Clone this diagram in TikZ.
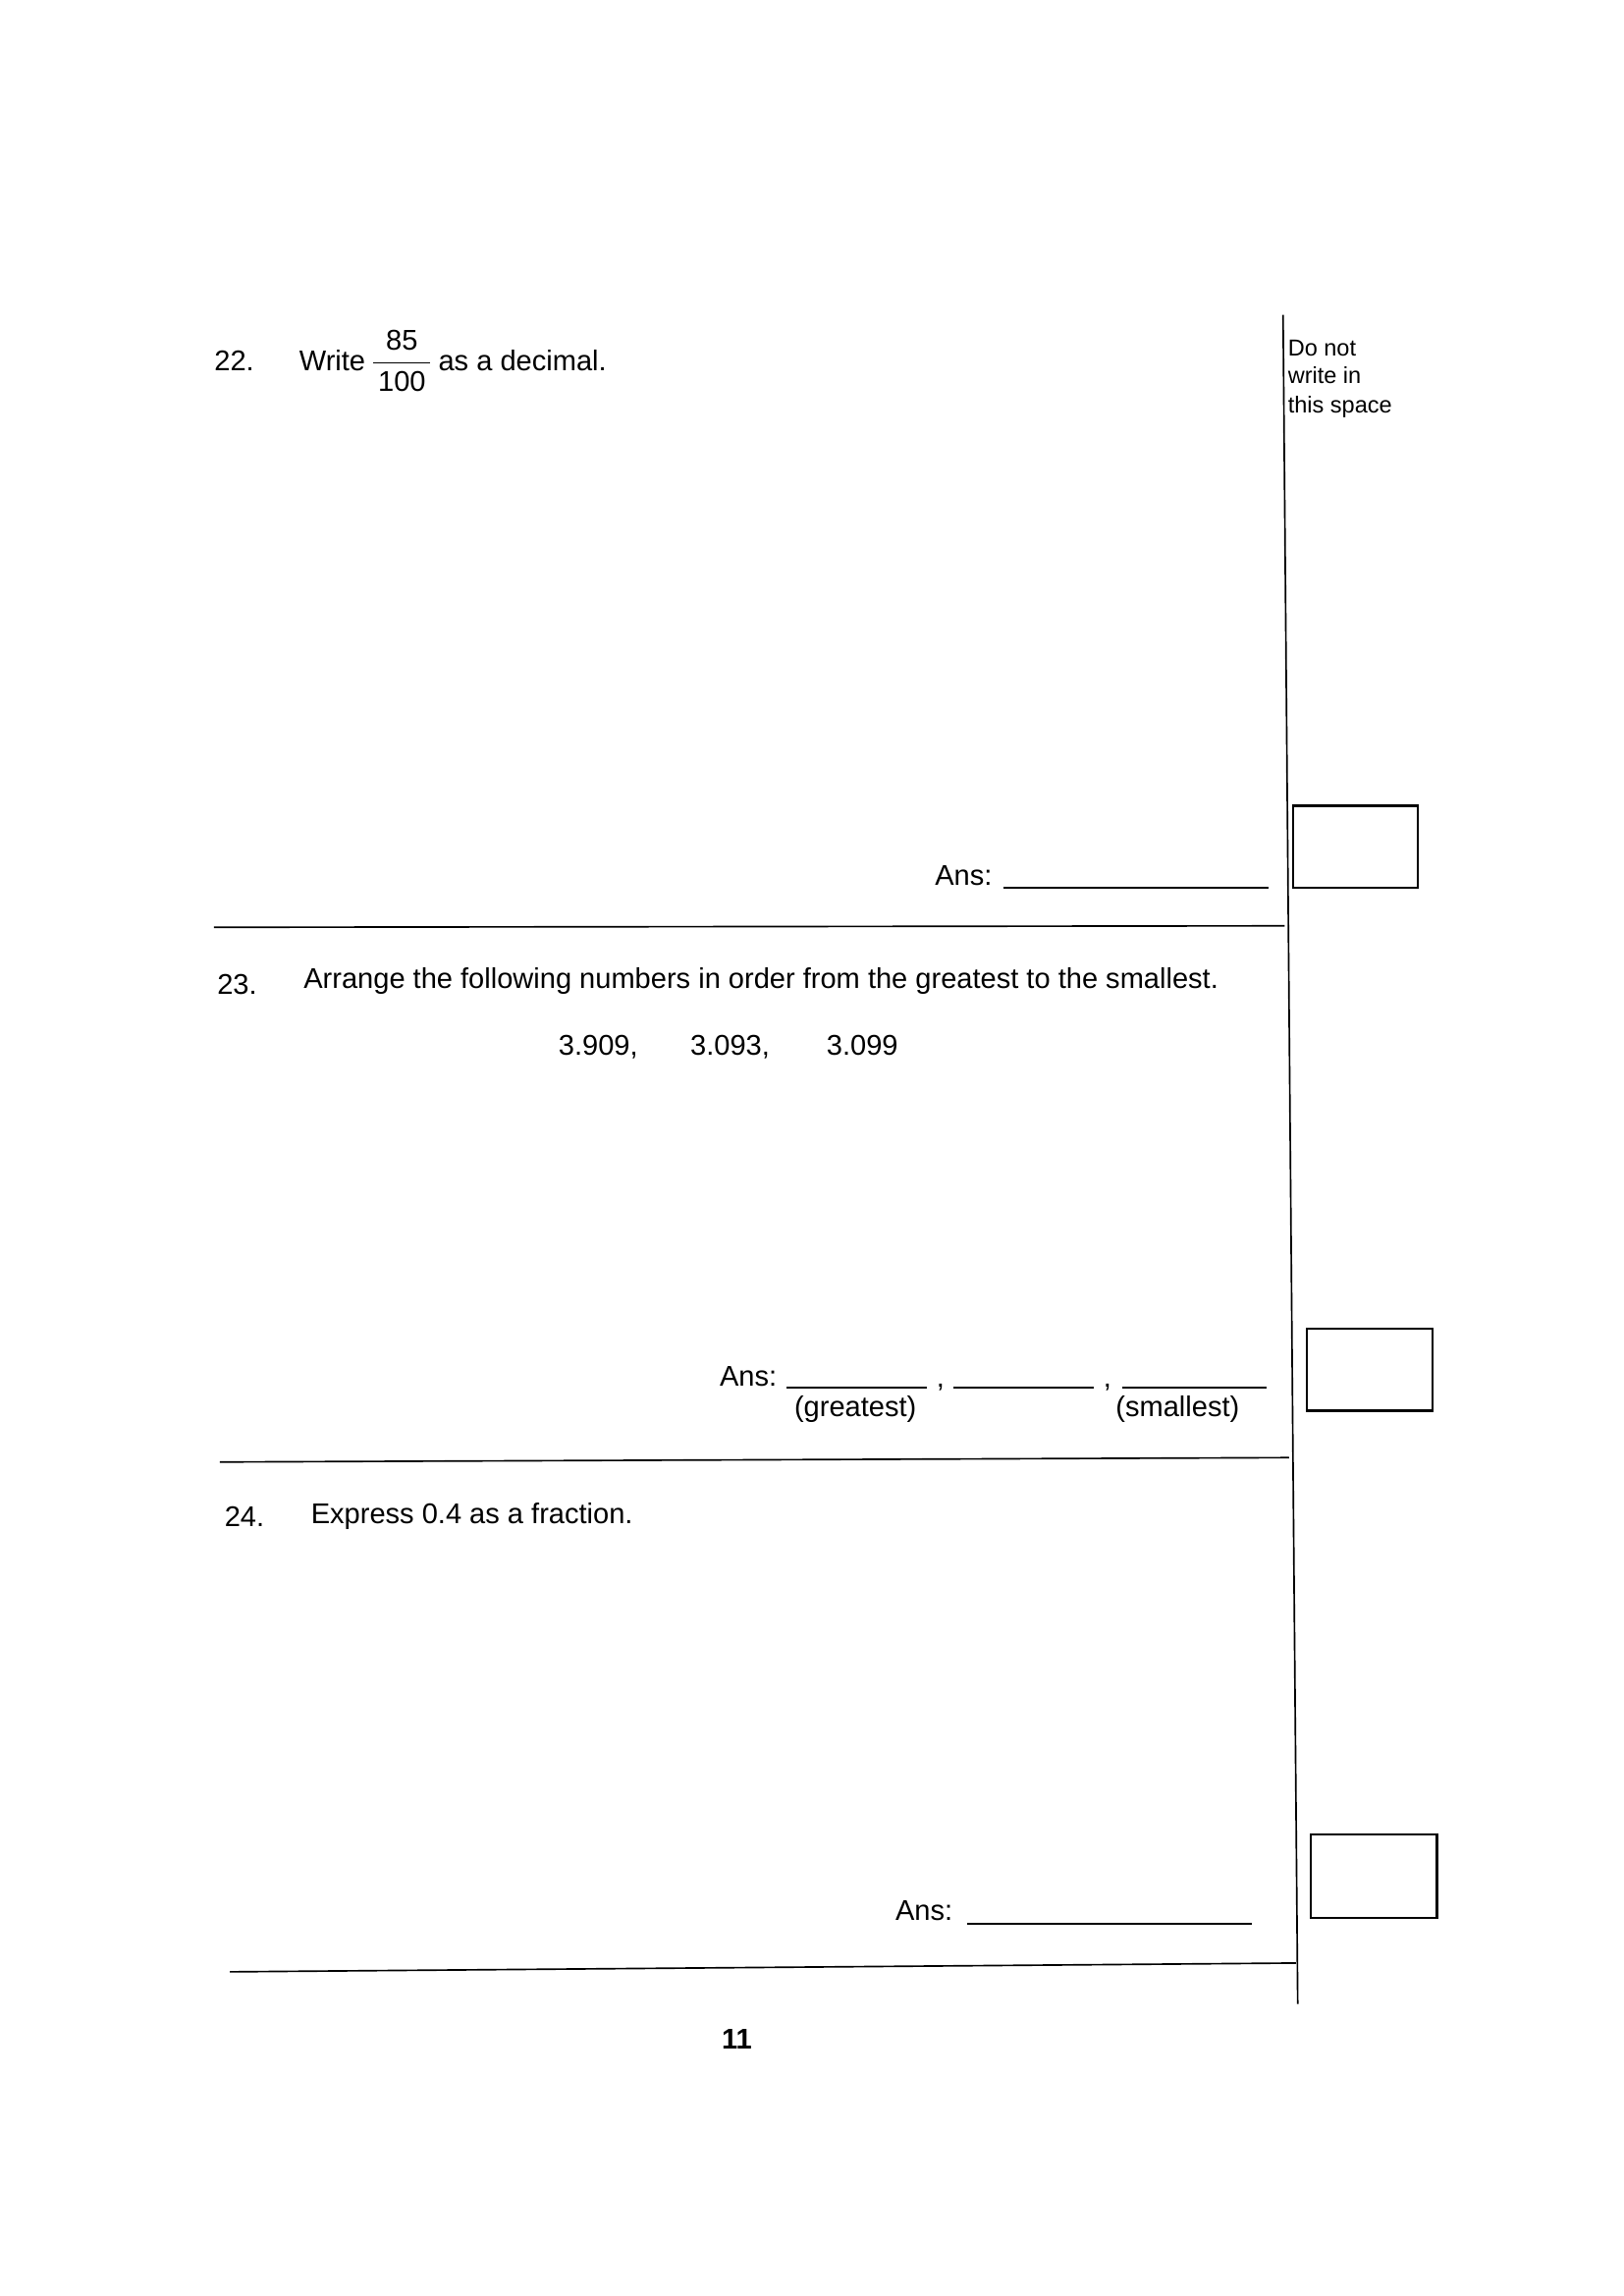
\documentclass[tikz,border=0pt]{standalone}
\usepackage{fontspec}
\setmainfont{Liberation Sans}
\begin{document}
\begin{tikzpicture}[x=0.01895cm,y=-0.01895cm,
  txt/.style={anchor=base west,inner sep=0,font=\fontsize{10.5}{12}\selectfont},
  small/.style={anchor=base west,inner sep=0,font=\fontsize{8.5}{10}\selectfont},
  ln/.style={line width=0.6pt},
  boxs/.style={draw,line width=0.8pt}]
\useasboundingbox (0,0) rectangle (1108.7,1567.3);
\coordinate (vt) at (876,215); \coordinate (vb) at (886,1368);
\draw[ln] (vt) -- (vb);
\node[small] (dn1) at (879,243) {Do not};
\node[small] (dn2) at (879,262) {write in};
\node[small] (dn3) at (879,282) {this space};
% Q22
\node[txt] (q22) at (146,253) {22.};
\node[txt] (w22) at (204,253) {Write\,$\displaystyle\frac{\mbox{\,85\,}}{\mbox{\,100\,}}$\,as a decimal.};
\node[txt] (a22) at (638,604) {Ans:};
\coordinate (l22a) at (685,606); \coordinate (l22b) at (866,606);
\draw[ln] (l22a) -- (l22b);
\draw[boxs] (883,550) rectangle (968,606);
\coordinate (h1a) at (146,633); \coordinate (h1b) at (877,632);
\draw[ln] (h1a) -- (h1b);
% Q23
\node[txt] (q23) at (148,679) {23.};
\node[txt] (t23) at (207,675) {Arrange the following numbers in order from the greatest to the smallest.};
\node[txt] (n1) at (381,720) {3.909,};
\node[txt] (n2) at (471,720) {3.093,};
\node[txt] (n3) at (564,720) {3.099};
\node[txt] (a23) at (491,946) {Ans:};
\draw[ln] (537,947) -- (633,947); \node[txt] (c1) at (639,947) {,};
\draw[ln] (651,947) -- (747,947); \node[txt] (c2) at (753,947) {,};
\draw[ln] (766,947) -- (865,947);
\node[txt,anchor=base] (g) at (584,967) {(greatest)};
\node[txt,anchor=base] (s) at (804,967) {(smallest)};
\draw[boxs] (892,907) rectangle (978,963);
\draw[ln] (150,998) -- (880,995);
% Q24
\node[txt] (q24) at (153,1042) {24.};
\node[txt] (t24) at (212,1040) {Express 0.4 as a fraction.};
\node[txt] (a24) at (611,1311) {Ans:};
\draw[ln] (660,1313) -- (855,1313);
\draw[boxs] (895,1252) rectangle (981,1309);
\draw[ln] (157,1346) -- (885,1340);
\node[txt,anchor=base,font=\bfseries\fontsize{10.5}{12}\selectfont] (pg) at (503,1399) {11};
\end{tikzpicture}
\end{document}
